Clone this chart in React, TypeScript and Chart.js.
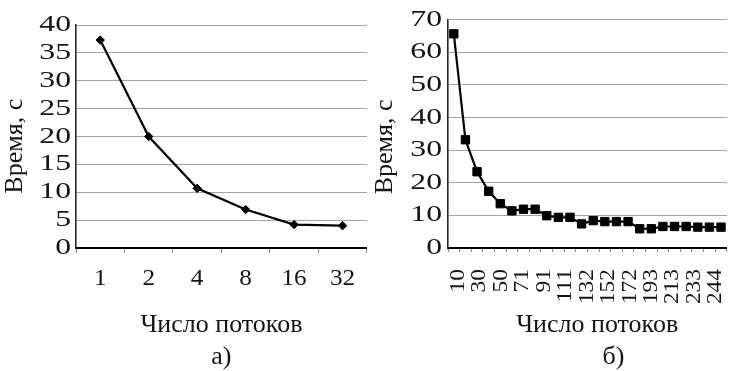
import { useEffect, useRef } from 'react';
import { Chart, registerables } from 'chart.js';

Chart.register(...registerables);

// ---- data -----------------------------------------------------------------
// chart а): time vs number of threads
const threadsA = ['1', '2', '4', '8', '16', '32'];
const timesA = [37.3, 20.0, 10.7, 6.9, 4.2, 4.0];

// chart б): time vs number of threads (24 measurements)
const threadsB = [
  '10', '20', '30', '40', '50', '60', '71', '81', '91', '101', '111', '121',
  '132', '142', '152', '162', '172', '182', '193', '203', '213', '223', '233', '244',
];
const timesB = [
  65.7, 33.2, 23.4, 17.4, 13.6, 11.4, 11.9, 11.9, 9.9, 9.4, 9.4, 7.4,
  8.4, 8.1, 8.1, 8.1, 5.9, 5.9, 6.6, 6.6, 6.6, 6.4, 6.4, 6.4,
];
// tick labels printed under chart б)
const tickLabelsB = ['10', '30', '50', '71', '91', '111', '132', '152', '172', '193', '213', '233', '244'];

const yMaxA = 40;
const yStepA = 5;
const yMaxB = 70;
const yStepB = 10;

const yTitle = 'Время, с';
const xTitle = 'Число потоков';
const captionA = 'а)';
const captionB = 'б)';

// ---- styling ----------------------------------------------------------------
const SERIF = '"Liberation Serif", serif';
const TEXT = '#141414';
const GRID = '#a3a3a3';
const NBSP = '\u00a0';

const Y_TICK_SIZE = 23;
const X_TICK_SIZE = 24;
const TITLE_SIZE = 25;
const ROT_TICK_SIZE = 20;

// The reference uses widened serif lettering; emulate it by stretching each
// glyph run along its reading direction (factor chosen per text size).
const STRETCH: Record<string, number> = {
  [String(Y_TICK_SIZE)]: 1.38,
  [String(X_TICK_SIZE)]: 1.05,
  [String(TITLE_SIZE)]: 1.04,
  [String(ROT_TICK_SIZE)]: 1.17,
};

function stretchFor(font: string) {
  const m = /(\d+(?:\.\d+)?)px/.exec(font);
  return (m && STRETCH[m[1]]) || 1;
}

function widenText(ctx: any) {
  if (ctx.__widened) return;
  ctx.__widened = true;
  const fill = ctx.fillText.bind(ctx);
  const measure = ctx.measureText.bind(ctx);
  ctx.fillText = (text: string, x: number, y: number, maxWidth?: number) => {
    const s = stretchFor(ctx.font);
    ctx.save();
    ctx.translate(x, y);
    ctx.scale(s, 1);
    if (maxWidth === undefined || maxWidth === null) fill(text, 0, 0);
    else fill(text, 0, 0, maxWidth / s);
    ctx.restore();
  };
  ctx.measureText = (text: string) => {
    const m = measure(text);
    const s = stretchFor(ctx.font);
    return {
      width: m.width * s,
      actualBoundingBoxLeft: m.actualBoundingBoxLeft * s,
      actualBoundingBoxRight: m.actualBoundingBoxRight * s,
      actualBoundingBoxAscent: m.actualBoundingBoxAscent,
      actualBoundingBoxDescent: m.actualBoundingBoxDescent,
      fontBoundingBoxAscent: m.fontBoundingBoxAscent,
      fontBoundingBoxDescent: m.fontBoundingBoxDescent,
    };
  };
}

const H = 371;

function yScale(max: number, step: number, width: number, labelPad: number, titleText: string) {
  return {
    min: 0,
    max,
    ticks: {
      stepSize: step,
      autoSkip: false,
      font: { family: SERIF, size: Y_TICK_SIZE },
      color: TEXT,
      padding: labelPad,
    },
    grid: { color: GRID, lineWidth: 1, drawTicks: false },
    border: { color: '#262626', width: 1.6 },
    title: {
      display: true,
      text: titleText,
      font: { family: SERIF, size: TITLE_SIZE },
      color: TEXT,
      padding: { top: 0, bottom: 0 },
    },
    afterFit: (s: any) => {
      s.width = width;
    },
  };
}

function makeChartA(canvas: HTMLCanvasElement) {
  widenText(canvas.getContext('2d'));
  const plotBottom = 248;
  return new Chart(canvas, {
    type: 'line',
    data: {
      labels: threadsA,
      datasets: [
        {
          data: timesA,
          borderColor: '#000',
          borderWidth: 2.2,
          pointStyle: 'rectRot',
          pointRadius: 4.2,
          pointBorderWidth: 1,
          pointBackgroundColor: '#000',
          pointBorderColor: '#000',
          tension: 0,
          fill: false,
        },
      ],
    },
    options: {
      responsive: false,
      devicePixelRatio: 1,
      animation: false,
      layout: { padding: { top: 25, right: 3, bottom: 0, left: 0 } },
      plugins: { legend: { display: false }, tooltip: { enabled: false } },
      scales: {
        x: {
          type: 'category',
          offset: true,
          grid: { display: true, drawOnChartArea: false, drawTicks: true, tickLength: 5, color: '#8c8c8c', offset: true },
          border: { color: '#000', width: 2 },
          ticks: { font: { family: SERIF, size: X_TICK_SIZE }, color: TEXT, padding: 11, maxRotation: 0, autoSkip: false },
          title: {
            display: true,
            text: [xTitle, captionA],
            font: { family: SERIF, size: TITLE_SIZE, lineHeight: '32px' },
            color: TEXT,
            padding: { top: 0, bottom: -2 },
          },
          afterFit: (s: any) => {
            s.height = H - plotBottom;
          },
        },
        y: yScale(yMaxA, yStepA, 76, 5, yTitle + NBSP.repeat(3)),
      },
    } as any,
  });
}

function makeChartB(canvas: HTMLCanvasElement) {
  widenText(canvas.getContext('2d'));
  const plotBottom = 248;
  const tickLen = 4;
  return new Chart(canvas, {
    type: 'line',
    data: {
      labels: threadsB,
      datasets: [
        {
          xAxisID: 'x',
          yAxisID: 'y',
          data: timesB,
          borderColor: '#000',
          borderWidth: 2.2,
          pointStyle: 'rect',
          pointRadius: 5.9,
          pointBorderWidth: 1,
          pointBackgroundColor: '#000',
          pointBorderColor: '#000',
          tension: 0,
          fill: false,
        },
      ],
    },
    options: {
      responsive: false,
      devicePixelRatio: 1,
      animation: false,
      layout: { padding: { top: 15, right: 3, bottom: 0, left: 0 } },
      plugins: { legend: { display: false }, tooltip: { enabled: false } },
      scales: {
        x: {
          type: 'category',
          weight: 0,
          offset: true,
          grid: { display: true, drawOnChartArea: false, drawTicks: true, tickLength: tickLen, color: '#8c8c8c', offset: true },
          border: { color: '#000', width: 2 },
          ticks: { display: false },
          afterFit: (s: any) => {
            s.height = tickLen;
          },
        },
        x2: {
          type: 'category',
          axis: 'x',
          position: 'bottom',
          weight: 1,
          labels: tickLabelsB,
          offset: true,
          grid: { display: false },
          border: { display: false },
          ticks: {
            font: { family: SERIF, size: ROT_TICK_SIZE },
            color: TEXT,
            padding: 9,
            minRotation: 90,
            maxRotation: 90,
            autoSkip: false,
          },
          title: {
            display: true,
            text: [NBSP.repeat(3) + xTitle, NBSP.repeat(8) + captionB],
            font: { family: SERIF, size: TITLE_SIZE, lineHeight: '32px' },
            color: TEXT,
            padding: { top: 0, bottom: -2 },
          },
          afterFit: (s: any) => {
            s.height = H - plotBottom - tickLen;
          },
        },
        y: yScale(yMaxB, yStepB, 78, 6, yTitle + NBSP.repeat(4)),
      },
    } as any,
  });
}

export default function App() {
  const refA = useRef<HTMLCanvasElement | null>(null);
  const refB = useRef<HTMLCanvasElement | null>(null);

  useEffect(() => {
    if (!refA.current || !refB.current) return;
    const a = makeChartA(refA.current);
    const b = makeChartB(refB.current);
    return () => {
      a.destroy();
      b.destroy();
    };
  }, []);

  return (
    <div
      style={{
        position: 'absolute',
        left: 0,
        top: 0,
        width: 745,
        height: H,
        overflow: 'hidden',
        background: '#ffffff',
      }}
    >
      <div style={{ position: 'absolute', left: 0, top: 0 }}>
        <canvas ref={refA} width={372} height={H} style={{ width: 372, height: H }} />
      </div>
      <div style={{ position: 'absolute', left: 370, top: 0 }}>
        <canvas ref={refB} width={380} height={H} style={{ width: 380, height: H }} />
      </div>
    </div>
  );
}
